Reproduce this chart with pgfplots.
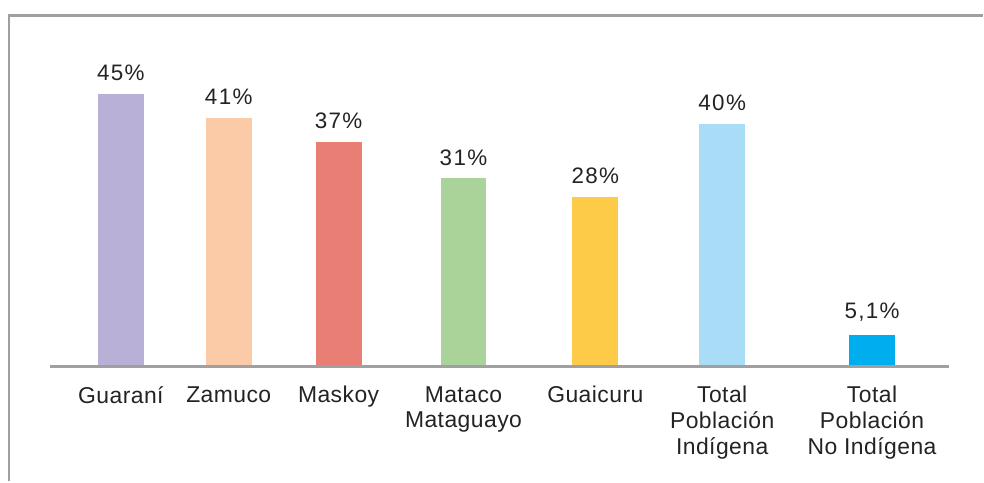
\documentclass[border=0pt]{standalone}
\usepackage{pgfplots}
\pgfplotsset{compat=1.18}
\usepackage{fontspec}
\setmainfont{Liberation Sans}
\newfontfamily\vfont[LetterSpace=6]{Liberation Sans}
\newfontfamily\lfont[LetterSpace=2]{Liberation Sans}
\definecolor{c1}{RGB}{184,176,214}
\definecolor{c2}{RGB}{251,203,168}
\definecolor{c3}{RGB}{232,126,116}
\definecolor{c4}{RGB}{169,211,152}
\definecolor{c5}{RGB}{254,203,72}
\definecolor{c6}{RGB}{169,221,247}
\definecolor{c7}{RGB}{0,174,239}
\definecolor{txt}{RGB}{35,35,35}
\definecolor{frm}{RGB}{160,160,162}
\begin{document}
\begin{tikzpicture}
\begin{axis}[
  scale only axis, width=984bp, height=482bp,
  xmin=0, xmax=984, ymin=-19.19, ymax=60.56,
  axis line style={draw=none}, tick style={draw=none},
  ytick=\empty, xtick=\empty,
  ybar, bar width=46bp, bar shift=0pt,
  nodes near coords, point meta=explicit symbolic,
  every node near coord/.append style={font=\vfont\fontsize{22.5}{24}\selectfont, text=txt, inner sep=0pt, anchor=south, yshift=13bp},
  clip=false,
]
\addplot[fill=c1, draw=none] coordinates {(121,45) [45\%]};
\addplot[fill=c2, draw=none] coordinates {(229,41) [41\%]};
\addplot[fill=c3, draw=none] coordinates {(339,37) [37\%]};
\addplot[fill=c4, draw=none] coordinates {(464,31) [31\%]};
\addplot[fill=c5, draw=none] coordinates {(596,28) [28\%]};
\addplot[fill=c6, draw=none] coordinates {(723,40) [40\%]};
\addplot[fill=c7, draw=none] coordinates {(873,5.1) [5,1\%]};
\draw[frm, line width=2.2bp] (axis cs:9,-19.19) -- (axis cs:9,58.0) -- (axis cs:984,58.0);
\draw[frm, line width=2.2bp] (axis cs:50,-0.15) -- (axis cs:950,-0.15);
\begin{scope}[every node/.style={font=\lfont\fontsize{23}{25.8}\selectfont, text=txt, align=center, anchor=north, inner sep=0pt}]
\node at (axis cs:121,-3.4) {Guaraní};
\node at (axis cs:229,-3.4) {Zamuco};
\node at (axis cs:339,-3.4) {Maskoy};
\node at (axis cs:464,-3.4) {Mataco\\Mataguayo};
\node at (axis cs:596,-3.4) {Guaicuru};
\node at (axis cs:723,-3.4) {Total\\Población\\Indígena};
\node at (axis cs:873,-3.4) {Total\\Población\\No Indígena};
\end{scope}
\end{axis}
\end{tikzpicture}
\end{document}
